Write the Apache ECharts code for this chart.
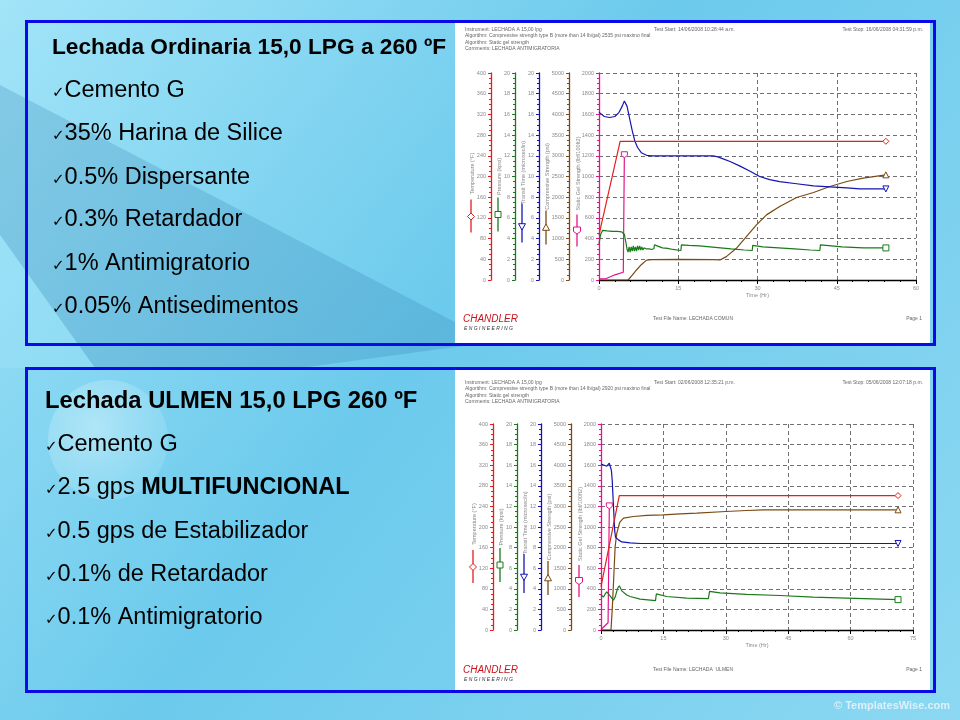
<!DOCTYPE html>
<html><head><meta charset="utf-8">
<script src="https://cdn.jsdelivr.net/npm/echarts/dist/echarts.min.js"></script>
<style>html,body{margin:0;padding:0;background:#7fd3f0}#c{width:960px;height:720px}</style>
</head><body><div id="c"></div>
<script>
// ---------------- DATA ----------------
// Chart 1: Lechada Ordinaria (time in hours)
const top_temperature = [[0,87],[4.0,268],[54.3,268]];                       // °F
const top_pressure = [[0,3.5],[0.3,4.4],[0.7,4.8],[1.5,4.75],[2.5,4.7],[3.5,4.7],[4.3,4.65],[4.8,4.4],[5.1,3.6],[5.3,3.0],[5.5,2.7],[5.7,3.2],[5.9,2.7],[6.1,3.2],[6.3,2.8],[6.5,3.3],[6.7,2.8],[6.9,3.2],[7.1,2.8],[7.3,3.3],[7.5,2.9],[7.7,3.3],[7.9,2.9],[8.1,3.2],[8.3,2.9],[8.5,3.1],[9.0,3.0],[9.5,3.0],[10.0,2.95],[10.4,3.05],[10.5,3.4],[11,3.3],[12,3.1],[13,3.05],[14,2.95],[15.5,2.85],[15.6,3.4],[17,3.35],[19,3.3],[21,3.2],[23,3.1],[25,3.0],[27.5,2.9],[29.0,2.85],[29.1,3.35],[31,3.2],[34,3.1],[37,3.0],[40,2.9],[41.8,2.85],[41.9,3.4],[44,3.3],[46,3.2],[48,3.15],[50,3.1],[54.3,3.1]]; // kpsi
const top_transit = [[0,16.2],[0.5,16.0],[1,15.8],[2,15.7],[3,15.8],[3.8,16.2],[4.4,16.8],[4.8,17.3],[5.0,17.4],[5.3,16.8],[5.8,15.6],[6.3,14.4],[6.8,13.4],[7.3,12.8],[8.0,12.3],[9.0,12.05],[10,12.0],[15,12.0],[20,12.0],[21.6,12.0],[22.5,11.9],[23.5,11.7],[24.8,11.45],[26.7,11.0],[28.6,10.5],[30.4,10.0],[32.3,9.7],[34.2,9.5],[37.4,9.3],[40.6,9.1],[43.7,9.0],[46.9,8.9],[49.4,8.8],[54.3,8.8]]; // microsec/in
const top_compressive = [[0,0],[5.5,0],[6.3,120],[7.1,242],[8,370],[9,480],[10,490],[15.3,500],[21.6,490],[22.9,485],[24.1,565],[26,766],[27.9,1048],[29.8,1331],[31.7,1573],[34.2,1774],[37.4,1992],[40.6,2113],[43.7,2258],[46.9,2379],[50,2460],[54.3,2540]]; // psi
const top_gel = [[0,10],[1.3,12],[1.6,25],[3,50],[4.6,75],[4.75,80],[4.8,1210]]; // lbf/100ft2

// Chart 2: Lechada ULMEN
const bot_temperature = [[0,84],[4.4,261],[71.4,261]];
const bot_pressure = [[0,3.4],[0.6,3.2],[1.0,3.5],[1.4,3.7],[1.8,3.5],[2.6,3.1],[3.0,2.9],[3.4,3.2],[4.0,4.05],[4.4,4.3],[5.0,3.8],[6.2,3.4],[7.0,3.25],[9.4,3.0],[13.1,2.85],[13.3,3.5],[15.8,3.25],[20.6,3.1],[25.8,3.05],[26.1,3.75],[28.6,3.6],[35,3.45],[43,3.35],[51,3.2],[59,3.1],[71.4,2.95]];
const bot_transit = [[0,16.1],[0.8,16.0],[1.4,15.9],[1.8,16.0],[2.0,16.2],[2.2,15.9],[2.5,15.5],[2.7,14.5],[3.0,12.0],[3.3,9.6],[3.5,9.0],[4.2,8.75],[5,8.55],[7,8.45],[9.4,8.4],[71.4,8.4]];
const bot_compressive = [[0,0],[2.4,0],[2.7,500],[3.0,1135],[3.4,2026],[3.8,2350],[4.5,2610],[5.4,2715],[7.8,2755],[11,2780],[15,2795],[19,2820],[23,2835],[30,2876],[35,2900],[39,2917],[71.4,2917]];
const bot_gel = [[0,5],[1.7,70],[1.9,72],[2.0,1205]];

// Axis titles and scales
const axisNames = ['Static Gel Strength (lbf/100ft2)','Compressive Strength (psi)','Transit Time (microsec/in)','Pressure (kpsi)','Temperature (°F)'];
const axisMax = [2000,5000,20,20,400];
const axisInterval = [200,500,2,2,40];
const xMaxTop = 60, xMaxBot = 75, xInterval = 15;

// Texts
const topTitle = 'Lechada Ordinaria 15,0 LPG a 260 ºF';
const topBullets = ['Cemento G','35% Harina de Silice','0.5% Dispersante','0.3% Retardador','1% Antimigratorio','0.05% Antisedimentos'];
const botTitle = 'Lechada ULMEN 15,0 LPG 260 ºF';
const botBulletsPlain = ['Cemento G','2.5 gps |MULTIFUNCIONAL','0.5 gps de Estabilizador','0.1% de Retardador','0.1% Antimigratorio'];
const topHeader = ['Instrument: LECHADA A 15,00 lpg','Algorithm: Compressive strength type B (more than 14 lb/gal) 2535 psi maximo final','Algorithm: Static gel strength','Comments: LECHADA ANTIMIGRATORIA'];
const topStart = 'Test Start: 14/06/2008 10:28:44 a.m.', topStop = 'Test Stop: 16/06/2008 04:31:59 p.m.';
const botHeader = ['Instrument: LECHADA A 15,00 lpg','Algorithm: Compressive strength type B (more than 14 lb/gal) 2920 psi maximo final','Algorithm: Static gel strength','Comments: LECHADA ANTIMIGRATORIA'];
const botStart = 'Test Start: 02/06/2008 12:35:21 p.m.', botStop = 'Test Stop: 05/06/2008 12:07:18 p.m.';
const topFile = 'Test File Name: LECHADA COMUN', botFile = 'Test File Name: LECHADA  ULMEN';

// ---------------- STYLE / LAYOUT ----------------
const MAG='#e0148c', BRN='#7a4a14', BLU='#1414b4', GRN='#1a7a1a', RED='#e0201c';
const axisColors=[MAG,BRN,BLU,GRN,RED];
const axisOffsets=[0,30,60,84,108];
const symShapes=['pent','tri','dtri','sq','dia'];
const nameDx=[-21,-22,-16,-16,-19], nameDy=[-3,0,-4,0,-3];
const glyph1=[38,34,27,21,23], glyph2=[70,68,66,55,56], glyphM=[54,51,50,38,40];
const grids=[{left:599,top:73,width:317,height:207},{left:601,top:424,width:312,height:206}];
const F='"Liberation Sans", Arial, sans-serif';

const chart = echarts.init(document.getElementById('c'), null, {renderer:'canvas'});

const echartsSym = {pent:'path://M0,0L10,0L10,6L5,10L0,6Z', tri:'path://M5,0L10,9L0,9Z', dtri:'path://M0,0L10,0L5,9Z', sq:'rect', dia:'diamond'};

function yAxes(gi){
  return axisNames.map((n,i)=>({
    type:'value', gridIndex:gi, position:'left', offset:axisOffsets[i], min:0, max:axisMax[i], interval:axisInterval[i],
    axisLine:{show:true,onZero:false,lineStyle:{color:axisColors[i],width:1.3}},
    axisTick:{show:true,length:3,lineStyle:{color:axisColors[i]}},
    minorTick:{show:true,splitNumber:4,length:2,lineStyle:{color:axisColors[i]}},
    axisLabel:{fontSize:5.5,color:'#8a8a8a',margin:5,fontFamily:F,formatter:v=>String(v)},
    splitLine:{show:i===0,lineStyle:{color:'#707070',type:[4,3],width:1}}
  }));
}
function xAxis(gi,max){
  return {type:'value',gridIndex:gi,min:0,max:max,interval:xInterval,
    axisLine:{show:true,onZero:false,lineStyle:{color:'#000',width:1.3}},
    axisTick:{show:true,length:4,lineStyle:{color:'#000'}},
    minorTick:{show:true,splitNumber:5,length:2,lineStyle:{color:'#000'}},
    axisLabel:{fontSize:5.5,color:'#8a8a8a',margin:5,fontFamily:F,formatter:v=>String(v)},
    splitLine:{show:true,lineStyle:{color:'#707070',type:[4,3],width:1}},
    name:'Time (Hr)',nameLocation:'middle',nameGap:12,nameTextStyle:{fontSize:5.5,color:'#8a8a8a',fontFamily:F}};
}
function endSymbol(shape,n){ return (v,p)=> p.dataIndex===n-1 ? echartsSym[shape] : 'none'; }
function mkSeries(arr,gi,ai){
  const yIndex = gi*5+ai;
  return {type:'line',xAxisIndex:gi,yAxisIndex:yIndex,data:arr,
    symbol:endSymbol(symShapes[ai],arr.length),symbolSize:6,showSymbol:true,
    lineStyle:{color:axisColors[ai],width:1.2},itemStyle:{color:'#fff',borderColor:axisColors[ai],borderWidth:1},
    animation:false,silent:true,z:3};
}
const series=[
  mkSeries(top_gel,0,0),mkSeries(top_compressive,0,1),mkSeries(top_transit,0,2),mkSeries(top_pressure,0,3),mkSeries(top_temperature,0,4),
  mkSeries(bot_gel,1,0),mkSeries(bot_compressive,1,1),mkSeries(bot_transit,1,2),mkSeries(bot_pressure,1,3),mkSeries(bot_temperature,1,4)
];

// ---------------- GRAPHICS ----------------
const g=[];
// background
g.push({type:'rect',z:-10,shape:{x:0,y:0,width:960,height:720},style:{fill:new echarts.graphic.LinearGradient(0,0,1,1,[{offset:0,color:'#a2e4f8'},{offset:0.45,color:'#6ccaec'},{offset:1,color:'#8cd8f2'}])}});
g.push({type:'polygon',z:-9,shape:{points:[[0,85],[470,330],[470,345],[300,368],[95,368],[0,235]]},style:{fill:'rgba(40,120,170,0.22)'}});
g.push({type:'polygon',z:-9,shape:{points:[[0,235],[95,368],[0,368]]},style:{fill:'rgba(170,235,252,0.25)'}});
g.push({type:'circle',z:-9,shape:{cx:108,cy:440,r:60},style:{fill:new echarts.graphic.RadialGradient(0.4,0.4,0.7,[{offset:0,color:'rgba(235,250,255,0.45)'},{offset:1,color:'rgba(200,240,252,0.15)'}])}});
// boxes
[[26.5,21.5,908,323],[26.5,368.5,908,323]].forEach(b=>{
  g.push({type:'rect',z:-5,shape:{x:455,y:b[1]+1.5,width:475,height:b[3]-3},style:{fill:'#ffffff'}});
  g.push({type:'rect',z:50,shape:{x:b[0],y:b[1],width:b[2],height:b[3]},style:{fill:'none',stroke:'#0a0ae8',lineWidth:3}});
});
// left texts
function bullets(x0,title,titleY,titleSize,items,ys,textX){
  g.push({type:'text',z:10,style:{text:title,x:x0,y:titleY,font:'bold '+titleSize+'px '+F,fill:'#000',verticalAlign:'middle'}});
  items.forEach((t,i)=>{
    const parts=t.split('|');
    let txt='{c|✓}{t|'+parts[0]+'}'+(parts[1]?'{b|'+parts[1]+'}':'');
    g.push({type:'text',z:10,style:{text:txt,x:textX,y:ys[i],verticalAlign:'middle',fill:'#000',
      rich:{c:{font:'15px "DejaVu Sans"',fill:'#000',verticalAlign:'bottom',padding:[0,0,2,0]},t:{font:'23.5px '+F,fill:'#000'},b:{font:'bold 23.5px '+F,fill:'#000'}}}});
  });
}
bullets(52,topTitle,47.5,22.7,topBullets,[90.8,134,177.5,220,264,307],52);
bullets(45,botTitle,401.7,23.8,botBulletsPlain,[445,488,531.7,575,618],45);

// chart headers/footers
function header(y0,lines,start,stop){
  lines.forEach((l,i)=>g.push({type:'text',z:10,style:{text:l,x:465,y:y0+[0,6,13,19][i],font:'5px '+F,fill:'#666',verticalAlign:'middle'}}));
  g.push({type:'text',z:10,style:{text:start,x:654,y:y0,font:'5px '+F,fill:'#666',verticalAlign:'middle'}});
  g.push({type:'text',z:10,style:{text:stop,x:923,y:y0,font:'5px '+F,fill:'#666',verticalAlign:'middle',align:'right'}});
}
header(30,topHeader,topStart,topStop);
header(383,botHeader,botStart,botStop);
function footer(y,file){
  g.push({type:'text',z:10,style:{text:'CHANDLER',x:463,y:y-2,font:'italic 10px '+F,fill:'#c8141c',verticalAlign:'middle'}});
  g.push({type:'text',z:10,style:{text:'E N G I N E E R I N G',x:464,y:y+8,font:'italic 5px '+F,fill:'#333',verticalAlign:'middle'}});
  g.push({type:'text',z:10,style:{text:file,x:693,y:y-2,font:'5px '+F,fill:'#666',verticalAlign:'middle',align:'center'}});
  g.push({type:'text',z:10,style:{text:'Page 1',x:922,y:y-2,font:'5px '+F,fill:'#666',verticalAlign:'middle',align:'right'}});
}
footer(321,topFile);
footer(672,botFile);
// axis names & legend glyphs
grids.forEach((gr,gi)=>{
  const mid=gr.top+gr.height/2;
  axisNames.forEach((n,i)=>{
    const ax=gr.left-axisOffsets[i];
    g.push({type:'text',z:10,x:ax+nameDx[i],y:mid+nameDy[i],rotation:Math.PI/2,style:{text:n,x:0,y:0,font:'5.5px '+F,fill:'#888',align:'center',verticalAlign:'middle'}});
    const gx=ax+nameDx[i]-1, c=axisColors[i];
    g.push({type:'line',z:10,shape:{x1:gx,y1:mid+glyph1[i],x2:gx,y2:mid+glyph2[i]},style:{stroke:c,lineWidth:1.3}});
    const my=mid+glyphM[i], s=3.5;
    let sh;
    if(symShapes[i]==='dia') sh={type:'polygon',shape:{points:[[gx,my-s],[gx+s,my],[gx,my+s],[gx-s,my]]}};
    else if(symShapes[i]==='sq') sh={type:'rect',shape:{x:gx-3,y:my-3,width:6,height:6}};
    else if(symShapes[i]==='tri') sh={type:'polygon',shape:{points:[[gx,my-s],[gx+s,my+s*0.8],[gx-s,my+s*0.8]]}};
    else if(symShapes[i]==='dtri') sh={type:'polygon',shape:{points:[[gx-s,my-s*0.8],[gx+s,my-s*0.8],[gx,my+s]]}};
    else sh={type:'polygon',shape:{points:[[gx-s,my-s],[gx+s,my-s],[gx+s,my+1],[gx,my+s],[gx-s,my+1]]}};
    sh.z=11; sh.style={fill:'#fff',stroke:c,lineWidth:1};
    g.push(sh);
  });
});
// watermark
g.push({type:'text',z:10,style:{text:'© TemplatesWise.com',x:950,y:706,font:'bold 11px '+F,fill:'rgba(235,245,250,0.85)',align:'right',verticalAlign:'middle'}});

chart.setOption({
  animation:false,
  backgroundColor:'transparent',
  grid:grids.map(gr=>Object.assign({containLabel:false,outerBoundsMode:'none'},gr)),
  xAxis:[xAxis(0,xMaxTop),xAxis(1,xMaxBot)],
  yAxis:[...yAxes(0),...yAxes(1)],
  series:series,
  graphic:{elements:g}
});
</script></body></html>
